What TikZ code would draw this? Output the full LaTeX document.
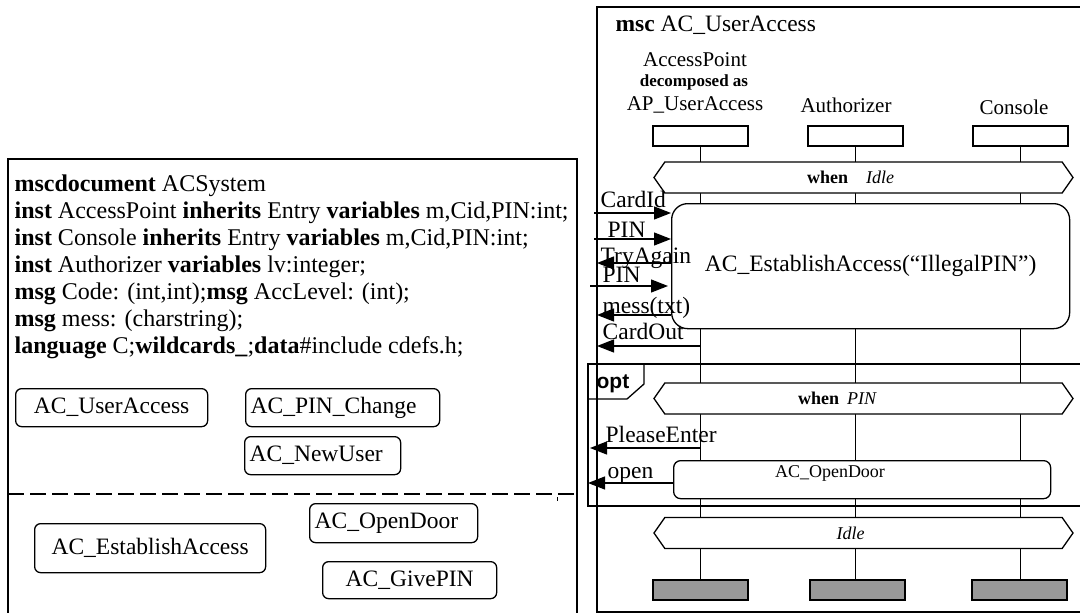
\documentclass[tikz,border=0pt]{standalone}
\usepackage{fontspec}
\setmainfont{Liberation Serif}
\newfontfamily\optfont{Liberation Sans}
\usetikzlibrary{arrows.meta,shapes.symbols,backgrounds}

\newcommand\mscmain{\fontsize{23.5}{27}\selectfont}
\newcommand\msctext{\fontsize{24}{27}\selectfont}
\newcommand\mscinst{\fontsize{21}{24}\selectfont}
\newcommand\msccond{\fontsize{18}{20}\selectfont}

\begin{document}
\begin{tikzpicture}[
  x=1pt, y=-1pt, line width=1.3pt,
  >={Triangle[length=17pt, width=13pt]},
  msg/.style={->},
  msglabel/.style={anchor=base west, inner sep=0pt, font=\mscmain},
  docref/.style={draw, rounded corners=6pt, inner sep=0pt, anchor=north west, font=\mscmain},
  headbox/.style={draw, fill=white, minimum width=95pt, minimum height=20pt, inner sep=0pt},
  stopbox/.style={draw, line width=2.2pt, fill=gray!80, minimum width=95pt, minimum height=20pt, inner sep=0pt},
  lifeline/.style={line width=1.6pt},
  instname/.style={inner sep=0pt, font=\mscinst},
  cond/.style={draw, fill=white, signal, signal to=west and east, signal pointer angle=110,
    minimum width=419pt, minimum height=31pt, inner sep=0pt},
  condtext/.style={inner sep=0pt, font=\msccond},
  mscref/.style={draw, fill=white, inner sep=0pt, anchor=north west}
]
\useasboundingbox (0,0) rectangle (1080,613);
\clip (0,0) rectangle (1080,613);

% mscdocument
\draw (8,159) rectangle (577,640);
\node[anchor=north west, align=left, inner sep=0pt, font=\msctext] (docText) at (14,174.5)
  {\textbf{mscdocument} ACSystem\\
   \textbf{inst} AccessPoint \textbf{inherits} Entry \textbf{variables} m,Cid,PIN:int;\\
   \textbf{inst} Console \textbf{inherits} Entry \textbf{variables} m,Cid,PIN:int;\\
   \textbf{inst} Authorizer \textbf{variables} lv:integer;\\
   \textbf{msg} Code: (int,int);\textbf{msg} AccLevel: (int);\\
   \textbf{msg} mess: (charstring);\\
   \textbf{language} C;\textbf{wildcards\_};\textbf{data}\#include cdefs.h;};
\node[docref, minimum width=192pt, minimum height=38pt] (refUserAccess) at (15,388) {AC\_UserAccess};
\node[docref, text width=184pt, align=left, inner xsep=5pt, minimum height=38pt] (refPinChange) at (245,388) {AC\_PIN\_Change};
\node[docref, text width=146pt, align=left, inner xsep=5pt, minimum height=38pt] (refNewUser) at (244,436) {AC\_NewUser};
\draw[dash pattern=on 16pt off 6pt] (8,494) -- (577,494);
\draw[line width=1pt] (557,497) -- (557,501);
\node[docref, minimum width=231pt, minimum height=49pt] (refEstablish) at (34,523) {AC\_EstablishAccess\hspace{8pt}};
\node[docref, text width=158pt, align=left, inner xsep=5pt, minimum height=39pt] (refOpenDoor) at (309,503) {AC\_OpenDoor};
\node[docref, minimum width=174pt, minimum height=37pt] (refGivePin) at (322,561) {AC\_GivePIN\hspace{20pt}};

% msc AC_UserAccess
\draw (597,7) rectangle (1100,612);
\node[anchor=west, inner sep=0pt, font=\mscmain] (mscTitle) at (615,25) {\textbf{msc} AC\_UserAccess};

\node[instname] (nAP) at (695,60) {AccessPoint};
\node[inner sep=0pt, font=\fontsize{17}{20}\selectfont\bfseries] (nAPdec) at (694,82) {decomposed as};
\node[instname] (nAPsub) at (695,105) {AP\_UserAccess};
\node[instname] (nAuth) at (846,105) {Authorizer};
\node[instname] (nCons) at (1014,107) {Console};

\node[headbox] (hAP) at (700.5,136) {};
\node[headbox] (hAuth) at (855.5,136) {};
\node[headbox] (hCons) at (1020.5,136) {};
\node[stopbox] (sAP) at (700.5,590) {};
\node[stopbox] (sAuth) at (857.5,590) {};
\node[stopbox] (sCons) at (1019.5,590) {};

\begin{scope}[on background layer]
  \draw[lifeline] (hAP) -- (sAP);
  \draw[lifeline] (hAuth) -- (hAuth |- sAuth);
  \draw[lifeline] (hCons) -- (hCons |- sCons);
\end{scope}

\node[cond] (condIdle) at (863.5,177.5) {};
\node[condtext, xshift=-13pt] (tIdle) at (condIdle) {\textbf{when}\hspace{18pt}\textit{Idle}};

\node[mscref, rounded corners=16pt, minimum width=398pt, minimum height=125pt, font=\mscmain] (estab) at (671,203)
  {AC\_EstablishAccess(“IllegalPIN”)\hspace{14pt}};

% messages to and from the environment
\coordinate (cardIdIn) at (594,213);
\draw[msg] (cardIdIn) -- (cardIdIn -| estab.west);
\node[msglabel] (lCardId) at (600,207) {CardId};
\coordinate (pinIn) at (594,239);
\draw[msg] (pinIn) -- (pinIn -| estab.west);
\node[msglabel] (lPin) at (607,237) {PIN};
\coordinate (tryOut) at (597,263);
\draw[msg] (tryOut -| estab.west) -- (tryOut);
\node[msglabel] (lTry) at (600,263) {TryAgain};
\coordinate (pinInB) at (590,286);
\draw[msg, shorten >=3pt] (pinInB) -- (pinInB -| estab.west);
\node[msglabel] (lPinB) at (602,282) {PIN};
\coordinate (messOut) at (597,315);
\draw[msg] (messOut -| estab.west) -- (messOut);
\node[msglabel] (lMess) at (602,313) {mess(txt)};
\coordinate (cardOut) at (597,346);
\draw[msg] (cardOut -| hAP) -- (cardOut);
\node[msglabel] (lCardOut) at (602,339) {CardOut};

% opt
\draw (588,364) rectangle (1100,506);
\draw (588,364) -- (644,364) -- (644,384) -- (627,399) -- (588,399);
\node[anchor=base west, inner sep=0pt, font=\fontsize{21}{24}\optfont\bfseries] (optName) at (596,388) {opt};

\node[cond] (condPin) at (863.5,398.5) {};
\node[condtext, xshift=-26pt] (tPin) at (condPin) {\textbf{when}\hspace{8pt}\textit{PIN}};

\coordinate (pleaseOut) at (590,448);
\draw[msg] (pleaseOut -| hAP) -- (pleaseOut);
\node[msglabel] (lPlease) at (605,442) {PleaseEnter};

\node[mscref, rounded corners=7pt, minimum width=377pt, minimum height=38pt] (odRef) at (673,460) {};
\node[condtext] (odText) at (830,473) {AC\_OpenDoor};
\coordinate (openOut) at (588,483);
\draw[msg] (openOut -| odRef.west) -- (openOut);
\node[msglabel] (lOpen) at (607,478) {open};

\node[cond] (condIdleB) at (863.5,533) {};
\node[condtext, xshift=-13pt] (tIdleB) at (condIdleB) {\textit{Idle}};
\end{tikzpicture}
\end{document}
